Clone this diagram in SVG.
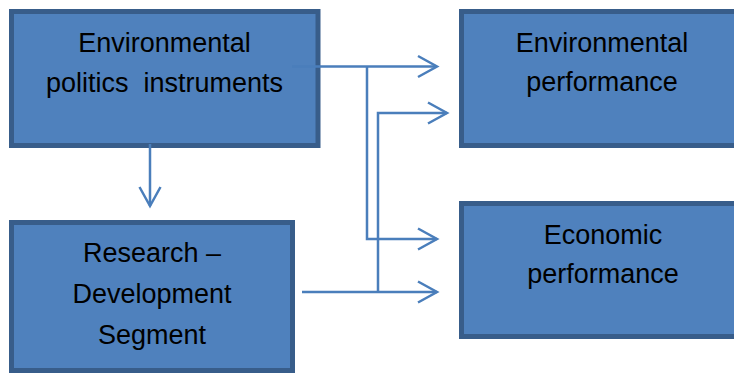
<svg xmlns="http://www.w3.org/2000/svg" width="734" height="374" viewBox="0 0 734 374">
<style>
.box{fill:#4f81bd;stroke:#385d8a;stroke-width:5}
.lbl{font-family:"Liberation Sans",Arial,sans-serif;font-size:27px;fill:#000;text-anchor:middle}
.con{fill:none;stroke:#4a7ebb;stroke-width:2.5}
</style>
<defs>
<marker id="arr" markerUnits="userSpaceOnUse" markerWidth="24" markerHeight="26" viewBox="-21 -12 24 24" refX="0" refY="0" orient="auto">
<path d="M-19,-10.5 L0,0 L-19,10.5" fill="none" stroke="#4a7ebb" stroke-width="2.5"/>
</marker>
</defs>
<rect width="734" height="374" fill="#fff"/>
<g id="node-instruments">
<rect class="box" x="11.5" y="11.5" width="306.5" height="134"/>
<text class="lbl" x="164.5" y="52">Environmental</text>
<text class="lbl" x="164.5" y="92" xml:space="preserve">politics  instruments</text>
</g>
<g id="node-envperf">
<rect class="box" x="461.5" y="11.5" width="290" height="134"/>
<text class="lbl" x="602" y="52">Environmental</text>
<text class="lbl" x="602" y="91">performance</text>
</g>
<g id="node-rd">
<rect class="box" x="11.5" y="222.5" width="281" height="148"/>
<text class="lbl" x="152" y="262">Research –</text>
<text class="lbl" x="152" y="303">Development</text>
<text class="lbl" x="152" y="344">Segment</text>
</g>
<g id="node-econperf">
<rect class="box" x="461.5" y="203.5" width="290" height="133"/>
<text class="lbl" x="603" y="244">Economic</text>
<text class="lbl" x="603" y="283">performance</text>
</g>
<g id="connectors">
<path class="con" d="M150,144 L150,206" marker-end="url(#arr)"/>
<path class="con" d="M292,66.5 L437,66.5" marker-end="url(#arr)"/>
<path class="con" d="M367,66.5 L367,239 L437,239" marker-end="url(#arr)"/>
<path class="con" d="M302,292 L437,292" marker-end="url(#arr)"/>
<path class="con" d="M378,292 L378,113 L447,113" marker-end="url(#arr)"/>
</g>
</svg>
